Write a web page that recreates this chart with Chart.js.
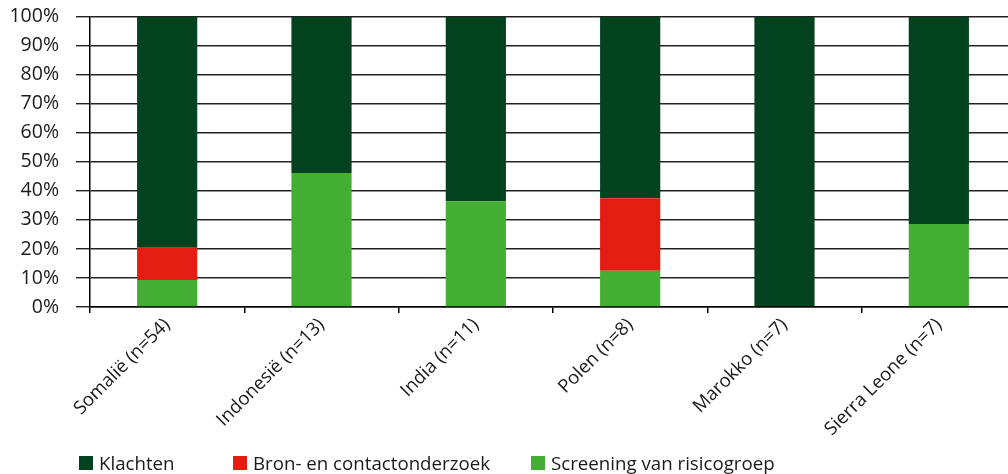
<!DOCTYPE html>
<html>
<head>
<meta charset="utf-8">
<script src="https://cdn.jsdelivr.net/npm/chart.js@4.4.1/dist/chart.umd.min.js"></script>
<style>
  html, body { margin: 0; padding: 0; background: #fff; overflow: hidden; width: 1008px; height: 474px; position: relative; }
  #wrap { position: absolute; left: 0; top: -12px; width: 1016px; height: 486px; }
  #legend { position: absolute; left: 0; top: 451px; height: 24px; font-family: "Open Sans", sans-serif; font-size: 18.7px; color: #1a1a1a; }
  .item { position: absolute; top: 0; white-space: nowrap; }
  .box { position: absolute; top: 5px; width: 14px; height: 14px; }
  .lbl { position: absolute; top: -1px; }
</style>
</head>
<body>
<div id="wrap">
  <canvas id="chart"></canvas>
</div>
<div id="legend"></div>
<script>
// categories and series (percent of cases)
const categories = ["Somalië (n=54)", "Indonesië (n=13)", "India (n=11)", "Polen (n=8)", "Marokko (n=7)", "Sierra Leone (n=7)"];
const screening = [9.3, 46.2, 36.4, 12.5, 0, 28.6];
const bronContact = [11.1, 0, 0, 25.0, 0, 0];
const klachten = [79.6, 53.8, 63.6, 62.5, 100, 71.4];
const yTicks = [0, 10, 20, 30, 40, 50, 60, 70, 80, 90, 100];

const colors = {
  klachten: "#03421e",
  bron: "#e31d12",
  screening: "#44ad34"
};

const font = "'Open Sans', sans-serif";

const ctx = document.getElementById('chart');
const chart = new Chart(ctx, {
  type: 'bar',
  data: {
    labels: categories,
    datasets: [
      { label: "Screening van risicogroep", data: screening, backgroundColor: colors.screening },
      { label: "Bron- en contactonderzoek", data: bronContact, backgroundColor: colors.bron },
      { label: "Klachten", data: klachten, backgroundColor: colors.klachten }
    ]
  },
  options: {
    responsive: true,
    maintainAspectRatio: false,
    animation: false,
    layout: { padding: { top: 3, right: 0, bottom: 0, left: 0 } },
    datasets: { bar: { barPercentage: 0.78, categoryPercentage: 0.5, borderWidth: 0 } },
    plugins: {
      legend: { display: false },
      tooltip: { enabled: false }
    },
    scales: {
      x: {
        stacked: true,
        offset: true,
        grid: { display: true, drawOnChartArea: false, offset: true, color: '#000', lineWidth: 1.5, tickLength: 6 },
        border: { color: '#000', width: 1.5 },
        ticks: {
          color: '#1a1a1a',
          font: { family: font, size: 18.5 },
          minRotation: 45,
          maxRotation: 45,
          padding: 1
        },
        afterFit: function (scale) { scale.height = 167; }
      },
      y: {
        stacked: true,
        min: 0,
        max: 100,
        afterBuildTicks: function (scale) { scale.ticks = yTicks.map(v => ({ value: v })); },
        grid: { color: '#222', lineWidth: 1.4, tickLength: 14 },
        border: { color: '#000', width: 1.5 },
        ticks: {
          color: '#1a1a1a',
          font: { family: font, size: 19.5 },
          padding: 17,
          callback: v => v + '%'
        },
        afterFit: function (scale) { scale.width = 90; }
      }
    }
  }
});

// legend in the original order (Klachten, Bron, Screening)
const legendPos = [79, 233, 531];
const legendEl = document.getElementById('legend');
chart.data.datasets.slice().reverse().forEach(function (ds, i) {
  const item = document.createElement('div');
  item.className = 'item';
  item.style.left = legendPos[i] + 'px';
  item.innerHTML = '<span class="box" style="background:' + ds.backgroundColor + '"></span><span class="lbl" style="left:20px">' + ds.label + '</span>';
  legendEl.appendChild(item);
});
</script>
</body>
</html>
